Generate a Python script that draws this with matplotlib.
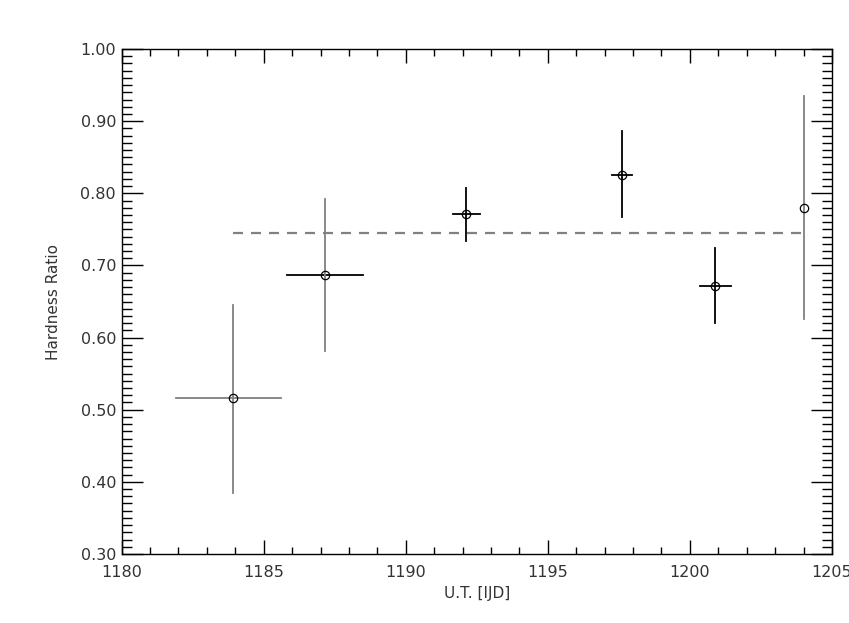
import matplotlib.pyplot as plt
from matplotlib.ticker import MultipleLocator, FormatStrFormatter

# hardness ratio points
t = [1183.93, 1187.16, 1192.11, 1197.60, 1200.89, 1204.0]
t_lo = [1181.9, 1185.82, 1191.65, 1197.26, 1200.37, 1204.0]
t_hi = [1185.6, 1188.50, 1192.60, 1197.96, 1201.43, 1204.0]
hr = [0.516, 0.687, 0.771, 0.826, 0.672, 0.780]
hr_lo = [0.385, 0.582, 0.734, 0.767, 0.620, 0.626]
hr_hi = [0.645, 0.792, 0.807, 0.886, 0.724, 0.935]
# colour of the x / y error bars for each point
xbar_col = ['#808080', 'black', 'black', 'black', 'black', '#808080']
ybar_col = ['#808080', '#808080', 'black', 'black', 'black', '#808080']
mean_hr = 0.745

fig = plt.figure(figsize=(8.49, 6.23), dpi=100)
ax = fig.add_axes([0.1433, 0.1108, 0.8366, 0.8105])

ax.plot([t[0], t[-1]], [mean_hr, mean_hr], ls=(0, (4.5, 3.6)), color='#808080', lw=1.6)

for i in range(len(t)):
    ax.plot([t_lo[i], t_hi[i]], [hr[i], hr[i]], color=xbar_col[i], lw=1.3)
    ax.plot([t[i], t[i]], [hr_lo[i], hr_hi[i]], color=ybar_col[i], lw=1.3)
    ax.plot(t[i], hr[i], marker='o', ms=6, mfc='none', mec='black', mew=0.9)

ax.set_xlim(1180, 1205)
ax.set_ylim(0.30, 1.00)
ax.xaxis.set_major_locator(MultipleLocator(5))
ax.xaxis.set_minor_locator(MultipleLocator(1))
ax.yaxis.set_major_locator(MultipleLocator(0.1))
ax.yaxis.set_minor_locator(MultipleLocator(0.01))
ax.yaxis.set_major_formatter(FormatStrFormatter('%.2f'))

ax.tick_params(which='both', direction='in', top=True, right=True,
               colors='black', labelcolor='#333333', labelsize=11.5, width=1.0)
ax.tick_params(axis='x', which='major', length=10, pad=8)
ax.tick_params(axis='x', which='minor', length=5)
ax.tick_params(axis='y', which='major', length=15, pad=4)
ax.tick_params(axis='y', which='minor', length=7)
for s in ax.spines.values():
    s.set_linewidth(1.0)

ax.set_xlabel('U.T. [IJD]', fontsize=11, color='#333333', labelpad=4)
ax.set_ylabel('Hardness Ratio', fontsize=11, color='#333333', labelpad=14)

fig.savefig('out.png', dpi=100)
